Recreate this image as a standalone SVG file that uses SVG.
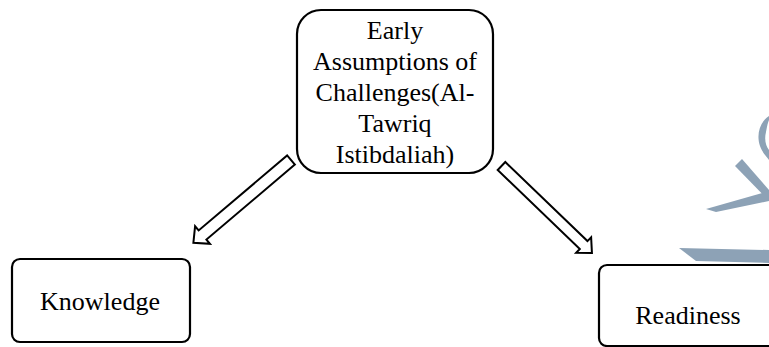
<svg xmlns="http://www.w3.org/2000/svg" width="769" height="347" viewBox="0 0 769 347">
<style>
.box{fill:#fff;stroke:#000;stroke-width:2.2}
.lbl{font-family:"Liberation Serif","Times New Roman",serif;font-size:26px;fill:#000;text-anchor:middle}
.arr{fill:#fff;stroke:#000;stroke-width:2;stroke-linejoin:miter}
.wm{fill:#8da2b6;stroke:none}
</style>
<rect width="769" height="347" fill="#fff"/>
<g id="watermark">
<polygon class="wm" points="735,166 742,159 769,190 769,201"/>
<polygon class="wm" points="706,209 769,191 769,201 716,212"/>
<path class="wm" d="M769,116 C760,122 756,134 760,146 C762,152 766,156 769,160 L769,150 C766,146 764,140 766,132 C767,126 768,122 769,120 Z"/>
<polygon class="wm" points="679,248 769,250 769,263 696,261"/>
</g>
<g id="connectors">
<polygon class="arr" transform="translate(291,160) rotate(139.7)" points="0,-6 116,-6 116,-11.5 128,0 116,11.5 116,6 0,6"/>
<polygon class="arr" transform="translate(501.5,166) rotate(43.9)" points="0,-5.5 114,-5.5 114,-10.8 125.5,0 114,10.8 114,5.5 0,5.5"/>
</g>
<g id="node-top">
<rect class="box" x="297" y="10" width="196" height="163" rx="24" ry="24"/>
<text class="lbl" x="395" y="39">Early</text>
<text class="lbl" x="395" y="70">Assumptions of</text>
<text class="lbl" x="395" y="101">Challenges(Al-</text>
<text class="lbl" x="395" y="132">Tawriq</text>
<text class="lbl" x="395" y="163">Istibdaliah)</text>
</g>
<g id="node-knowledge">
<rect class="box" x="12" y="259" width="178" height="83" rx="8" ry="8"/>
<text class="lbl" x="100" y="310">Knowledge</text>
</g>
<g id="node-readiness">
<rect class="box" x="599" y="265" width="200" height="81" rx="8" ry="8"/>
<text class="lbl" x="688" y="324">Readiness</text>
</g>
</svg>
